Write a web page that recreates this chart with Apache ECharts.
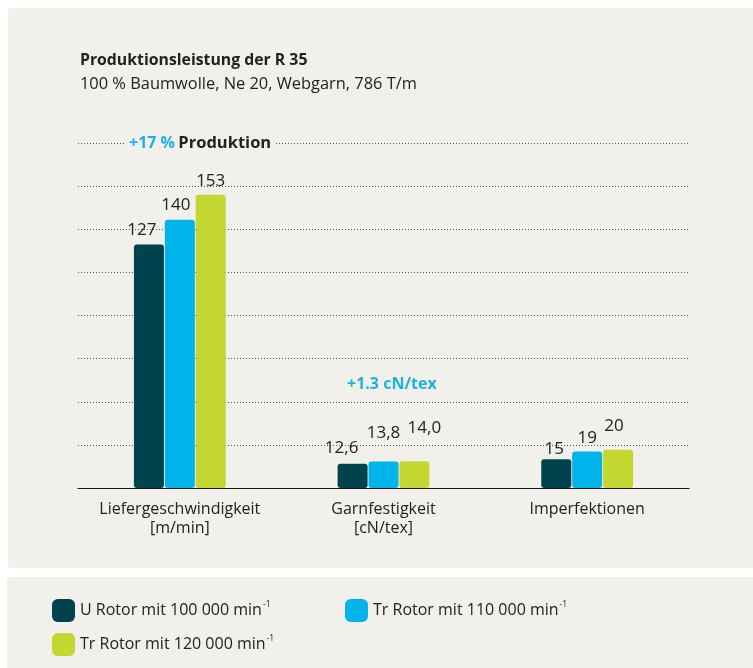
<!DOCTYPE html>
<html>
<head>
<meta charset="utf-8">
<script src="https://cdn.jsdelivr.net/npm/echarts@6/dist/echarts.min.js"></script>
<style>
html, body { margin: 0; padding: 0; background: #ffffff; }
#chart { width: 753px; height: 668px; }
</style>
</head>
<body>
<div id="chart"></div>
<script>
// ---- Data ----
const categories = ['Liefergeschwindigkeit\n[m/min]', 'Garnfestigkeit\n[cN/tex]', 'Imperfektionen'];
const seriesNames = ['U Rotor mit 100 000 min', 'Tr Rotor mit 110 000 min', 'Tr Rotor mit 120 000 min'];
const uRotor100 = [127, 12.6, 15];
const trRotor110 = [140, 13.8, 19];
const trRotor120 = [153, 14.0, 20];
const titleText = 'Produktionsleistung der R 35';
const subtitleText = '100 % Baumwolle, Ne 20, Webgarn, 786 T/m';
const annotationProduction = ['+17 %', 'Produktion'];
const annotationStrength = '+1.3 cN/tex';

// ---- Styles ----
const FONT = '"Open Sans", "Noto Sans", sans-serif';
const TEXT = '#222222';
const colors = ['#00434f', '#00b4e9', '#c3d730'];
const BLUE = '#1ab2e6';
const BG = '#f1f0ea';
// per-bar label nudges (style only)
const labelNudges = [
  [[-7, -1], [-11, -2], [-2, 3]],
  [[-4, -1], [0, -15], [0, 0]],
  [[0, 0], [10, -20], [-4, -10]]
];

function fmt(p) {
  return p.dataIndex === 1 ? p.value.toFixed(1).replace('.', ',') : String(p.value);
}

const allValues = [uRotor100, trRotor110, trRotor120];

const series = allValues.map(function (vals, si) {
  return {
    name: seriesNames[si],
    type: 'bar',
    barWidth: 30,
    barGap: '3%',
    itemStyle: { color: colors[si], borderRadius: 3 },
    label: {
      show: true,
      position: 'top',
      distance: 5,
      color: TEXT,
      fontFamily: FONT,
      fontSize: 17,
      formatter: fmt
    },
    data: vals.map(function (v, ci) {
      return { value: v, label: { offset: labelNudges[si][ci] } };
    })
  };
});

function legendRich() {
  return {
    a: { fontFamily: FONT, fontSize: 16, color: TEXT, lineHeight: 21 },
    s: { fontFamily: FONT, fontSize: 8.5, color: TEXT, lineHeight: 11, verticalAlign: 'top', padding: [0, 0, 0, 1] }
  };
}
function legendFmt(name) { return '{a|' + name + '}{s|-1}'; }
function makeLegend(idx, left, top) {
  return {
    data: [seriesNames[idx]],
    left: left,
    top: top,
    padding: 0,
    orient: 'horizontal',
    icon: 'roundRect',
    itemWidth: 23,
    itemHeight: 23,
    selectedMode: false,
    formatter: legendFmt,
    textStyle: { rich: legendRich() }
  };
}

const option = {
  backgroundColor: '#ffffff',
  animation: false,
  graphic: [
    { type: 'rect', z: -10, silent: true, shape: { x: 8, y: 8, width: 760, height: 560, r: 4 }, style: { fill: BG } },
    { type: 'rect', z: -10, silent: true, shape: { x: 7, y: 577, width: 760, height: 100, r: 4 }, style: { fill: BG } },
    { type: 'text', z: 100, left: 80, top: 52, style: { text: titleText, fontFamily: FONT, fontSize: 15.8, fontWeight: 'bold', fill: TEXT } },
    { type: 'text', z: 100, left: 80, top: 76, style: { text: subtitleText, fontFamily: FONT, fontSize: 16.4, fill: TEXT } },
    {
      type: 'text', z: 100, left: 124, top: 132,
      style: {
        text: '{a|' + annotationProduction[0] + '} {b|' + annotationProduction[1] + '}',
        backgroundColor: BG,
        padding: [0, 5, 0, 5],
        rich: {
          a: { fontFamily: FONT, fontSize: 16, fontWeight: 'bold', fill: BLUE, color: BLUE, lineHeight: 22 },
          b: { fontFamily: FONT, fontSize: 16.5, fontWeight: 'bold', fill: TEXT, color: TEXT, lineHeight: 22 }
        }
      }
    },
    { type: 'text', z: 100, left: 347, top: 376, style: { text: annotationStrength, fontFamily: FONT, fontSize: 16, fontWeight: 'bold', fill: BLUE } }
  ],
  legend: [makeLegend(0, 52, 599), makeLegend(1, 345, 599), makeLegend(2, 52, 633)],
  grid: { left: 78, right: 64, top: 143, bottom: 180, containLabel: false },
  xAxis: {
    type: 'category',
    data: categories,
    axisLine: { lineStyle: { color: '#1a1a1a', width: 1.2 } },
    axisTick: { show: false },
    axisLabel: { color: TEXT, fontFamily: FONT, fontSize: 16, lineHeight: 19, margin: 12, interval: 0 }
  },
  yAxis: {
    type: 'value',
    min: 0,
    max: 180,
    interval: 22.5,
    axisLine: { show: false },
    axisTick: { show: false },
    axisLabel: { show: false },
    splitLine: { lineStyle: { color: '#555555', width: 1, type: [1, 2] } }
  },
  series: series
};

const chart = echarts.init(document.getElementById('chart'), null, { renderer: 'canvas' });
chart.setOption(option);
</script>
</body>
</html>
